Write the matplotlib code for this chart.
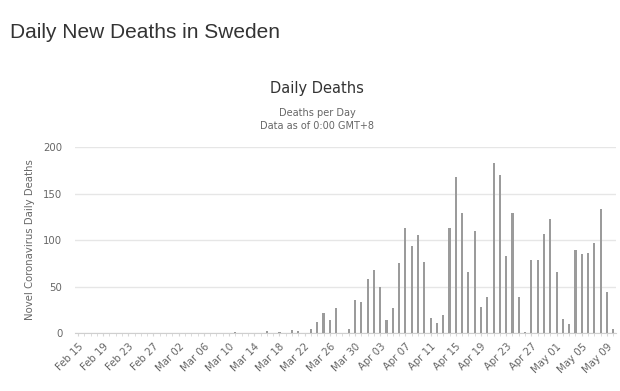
import numpy as np
import pandas as pd
import matplotlib
matplotlib.use("Agg")
import matplotlib.pyplot as plt

# daily deaths, Feb 15 .. May 10 2020
dates = pd.date_range("2020-02-15", "2020-05-10", freq="D")
deaths = [0] * 25 + [
    1, 0, 0, 0, 0,          # Mar 11 - Mar 15
    2, 0, 1, 0, 3, 2, 0,    # Mar 16 - Mar 22
    4, 12, 21, 14, 27, 0, 4,  # Mar 23 - Mar 29
    35, 33, 58, 68, 49, 14, 27,  # Mar 30 - Apr 05
    75, 113, 94, 105, 76, 16, 11,  # Apr 06 - Apr 12
    19, 113, 168, 129, 66, 110, 28,  # Apr 13 - Apr 19
    39, 183, 170, 83, 129, 39, 1,  # Apr 20 - Apr 26
    78, 79, 106, 123, 66, 15, 10,  # Apr 27 - May 03
    89, 85, 86, 97, 133, 44, 4,  # May 04 - May 10
]
labels = [d.strftime("%b %d") for d in dates]
yticks = [0, 50, 100, 150, 200]

fig = plt.figure(figsize=(6.2, 3.91), dpi=100)
ax = fig.add_axes([0.1206, 0.1483, 0.8736, 0.4757])

x = np.arange(len(dates))
ax.bar(x, deaths, width=0.34, color="#9b9b9b", zorder=3)

ax.set_xlim(-0.5, len(dates) - 0.5)
ax.set_ylim(0, 200)
ax.set_yticks(yticks)
ax.set_yticklabels([str(v) for v in yticks])
ax.set_xticks(x[::4])
ax.set_xticklabels(labels[::4], rotation=45, ha="right", rotation_mode="anchor",
                   fontsize=7.3, color="#666666")
ax.set_xticks(x, minor=True)
ax.tick_params(axis="x", which="both", length=2, color="#d6d6d6", pad=4)
ax.tick_params(axis="y", length=0, labelsize=7.3, labelcolor="#666666", pad=9)

ax.grid(axis="y", color="#e6e6e6", linewidth=1, zorder=0)
for side in ["top", "right", "left"]:
    ax.spines[side].set_visible(False)
ax.spines["bottom"].set_color("#cfcfcf")

ax.set_ylabel("Novel Coronavirus Daily Deaths", fontsize=7.3, color="#666666", labelpad=6)

fig.text(10 / 620, 1 - 33 / 391, "Daily New Deaths in Sweden", fontsize=15,
         family="Liberation Sans", color="#333333", va="center", ha="left")
fig.text(317 / 620, 1 - 88 / 391, "Daily Deaths", fontsize=10.5,
         color="#333333", va="center", ha="center")
fig.text(317 / 620, 1 - 113 / 391, "Deaths per Day", fontsize=7,
         color="#666666", va="center", ha="center")
fig.text(317 / 620, 1 - 126 / 391, "Data as of 0:00 GMT+8", fontsize=7,
         color="#666666", va="center", ha="center")

fig.savefig("out.png", dpi=100)
